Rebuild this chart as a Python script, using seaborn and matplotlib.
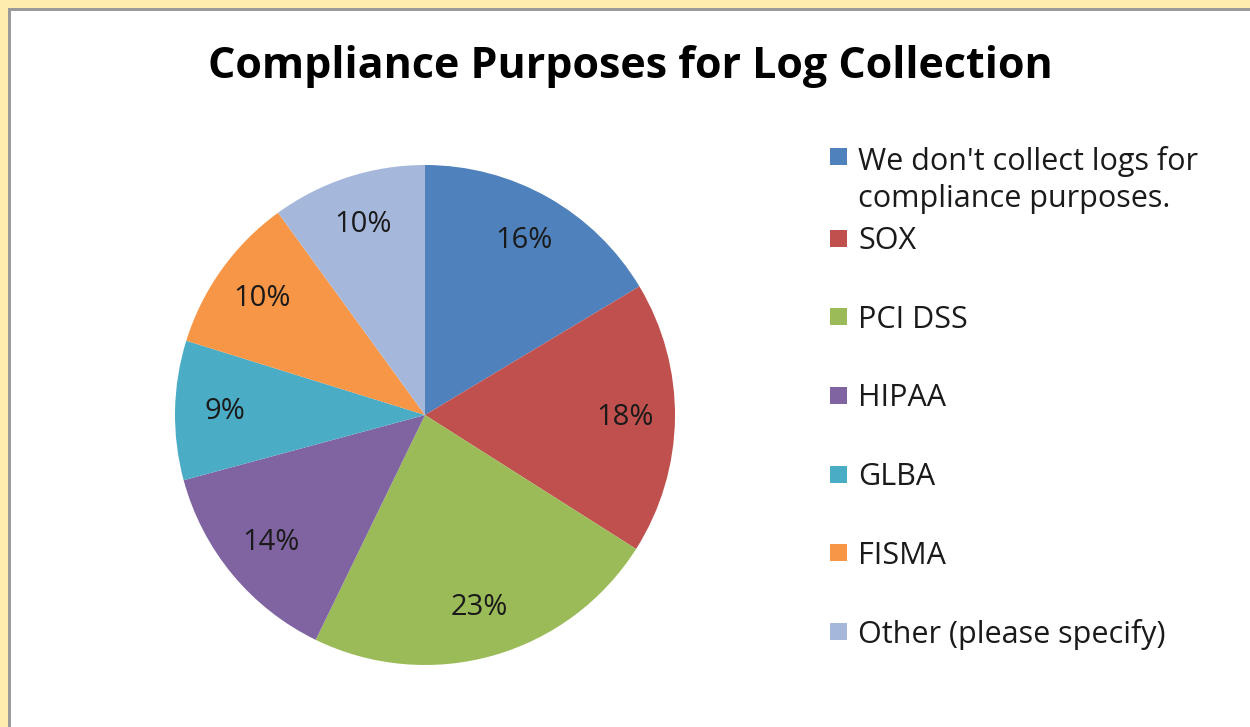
import matplotlib
matplotlib.use("Agg")
import numpy as np
import matplotlib.pyplot as plt
import seaborn as sns
from matplotlib.patches import Rectangle

# data
categories = [
    "We don't collect logs for\ncompliance purposes.",
    "SOX",
    "PCI DSS",
    "HIPAA",
    "GLBA",
    "FISMA",
    "Other (please specify)",
]
shares = [16.4, 17.6, 23.2, 13.6, 9.0, 10.2, 10.0]
pct_labels = ["16%", "18%", "23%", "14%", "9%", "10%", "10%"]
colors = ["#4F81BD", "#C0504D", "#9BBB59", "#8064A2", "#4BACC6", "#F79646", "#A5B8DB"]

sns.set_theme(style="white")
plt.rcParams["font.family"] = ["Open Sans", "DejaVu Sans"]

W, H = 1250, 727
fig = plt.figure(figsize=(W / 100, H / 100), dpi=100)
fig.patch.set_facecolor("#FEEBAE")

# white chart area with grey shadow line on top/left
fig.patches.append(Rectangle((8 / W, 0), 1 - 8 / W, (H - 8) / H, transform=fig.transFigure,
                             facecolor="#9A9A9A", edgecolor="none", zorder=-2))
fig.patches.append(Rectangle((11 / W, 0), 1 - 11 / W, (H - 11) / H, transform=fig.transFigure,
                             facecolor="white", edgecolor="none", zorder=-1))

ax = fig.add_axes([175 / W, 62 / H, 500 / W, 500 / H])
ax.patch.set_alpha(0)
wedges, texts = ax.pie(shares, colors=colors, startangle=90, counterclock=False,
                       radius=1, wedgeprops={"linewidth": 0})
for w, lab in zip(wedges, pct_labels):
    ang = np.deg2rad((w.theta1 + w.theta2) / 2)
    ax.text(0.8 * np.cos(ang), 0.8 * np.sin(ang), lab, ha="center", va="center",
            fontsize=21, color="#1a1a1a")
ax.set_xlim(-1, 1)
ax.set_ylim(-1, 1)
ax.set_aspect("equal")
ax.axis("off")

fig.text(630 / W, (H - 67) / H, "Compliance Purposes for Log Collection",
         ha="center", va="center", fontsize=31, fontweight="bold", color="black")

# legend, Excel style: one slot per entry, long first label wraps below
row_y = [156] + [238 + 78.7 * i for i in range(len(categories) - 1)]
sq = 17
for y, cat, col in zip(row_y, categories, colors):
    fig.patches.append(Rectangle((830 / W, (H - y - sq / 2) / H), sq / W, sq / H,
                                 transform=fig.transFigure, facecolor=col,
                                 edgecolor="none"))
    extra = cat.count("\n") * 40
    fig.text(858 / W, (H - y - 11 - extra) / H, cat, ha="left", va="baseline",
             fontsize=22, color="#1a1a1a", linespacing=1.3)

fig.savefig("out.png", dpi=100)
